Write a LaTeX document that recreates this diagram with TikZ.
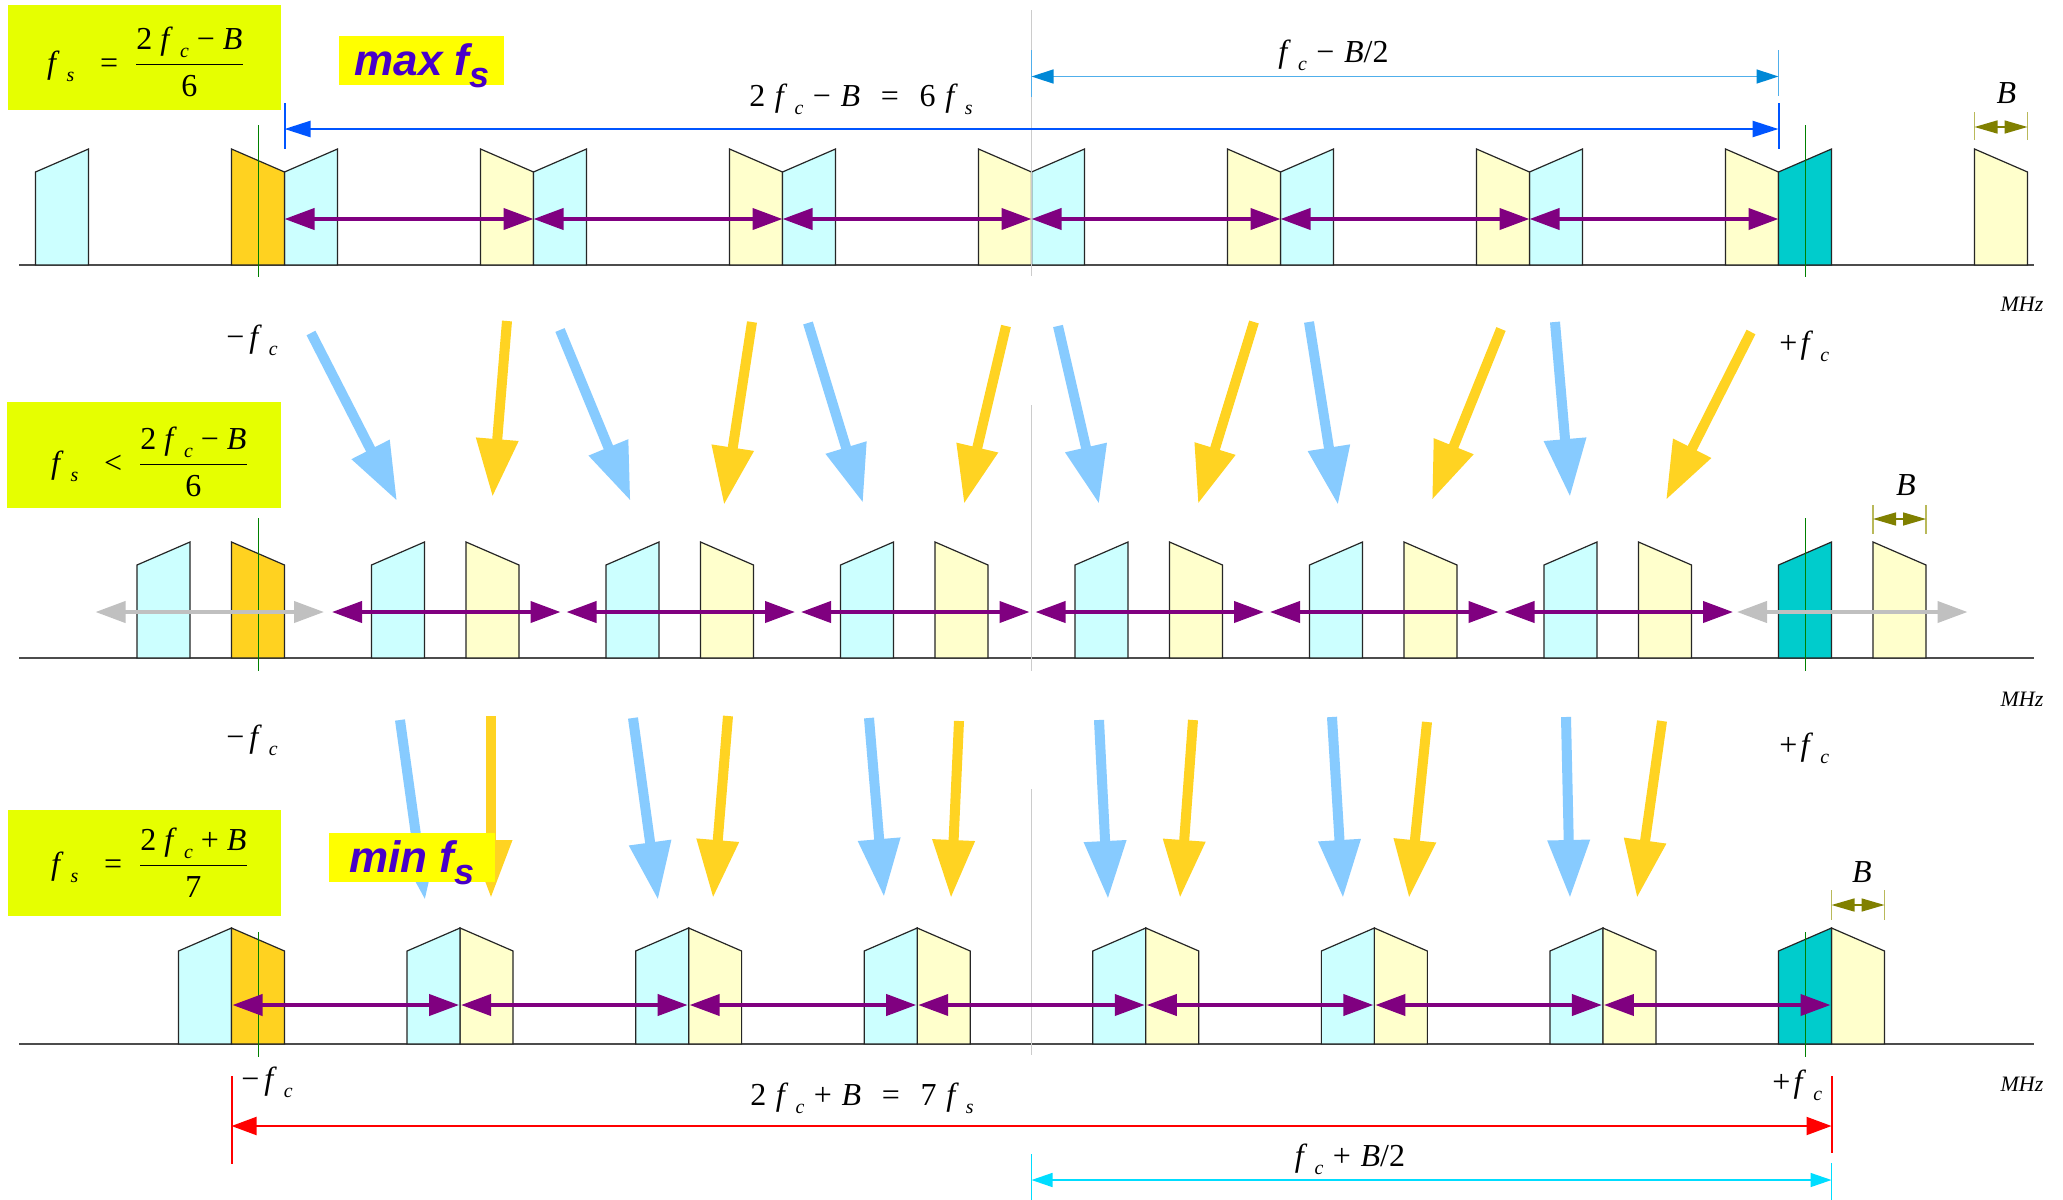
\documentclass[tikz,border=0pt]{standalone}
\usepackage{fontspec}
\setmainfont{Liberation Serif}
\newfontfamily\lsans{Liberation Sans}
\usepackage{graphicx}
\usetikzlibrary{arrows.meta}
\definecolor{cyanc}{RGB}{204,255,255}
\definecolor{yelc}{RGB}{255,255,204}
\definecolor{orac}{RGB}{255,210,32}
\definecolor{tealc}{RGB}{0,204,204}
\definecolor{bluearr}{RGB}{135,203,255}
\definecolor{orarr}{RGB}{255,211,34}
\definecolor{purp}{RGB}{128,0,128}
\definecolor{grayarr}{RGB}{192,192,192}
\definecolor{dimblue}{RGB}{0,85,255}
\definecolor{ltblue}{RGB}{0,136,214}
\definecolor{ltbline}{RGB}{80,175,235}
\definecolor{olivec}{RGB}{128,128,0}
\definecolor{olivet}{RGB}{185,185,90}
\definecolor{dimcyan}{RGB}{0,221,255}
\definecolor{formbg}{RGB}{230,255,0}
\definecolor{maxbg}{RGB}{255,255,0}
\definecolor{maxtxt}{RGB}{72,0,200}
\definecolor{gline}{RGB}{0,128,0}
\newcommand\subc[1]{\raisebox{-0.25em}{\scalebox{0.62}{\textit{#1}}}}
\newcommand\ff[1]{\textit{f}\hspace{0.22em}\subc{#1}}
\newcommand\gp{\hspace{0.3em}}
\newcommand\fgp{\hspace{0.25em}}
\newcommand\pblk[3]{\filldraw[blk,fill=#3] (#1,#2) -- (#1,#2-93) -- ({#1+53},#2-116) -- ({#1+53},#2) -- cycle;}
\newcommand\nblk[3]{\filldraw[blk,fill=#3] (#1,#2-116) -- (#1,#2) -- ({#1+53},#2) -- ({#1+53},#2-93) -- cycle;}
\begin{document}
\begin{tikzpicture}[x=0.5pt,y=-0.5pt,
  blk/.style={draw=black!85,line width=0.6pt,line join=miter},
  baseln/.style={draw=black!70,line width=0.75pt},
  gln/.style={draw=gline,line width=0.5pt},
  cln/.style={draw=black!20,line width=0.5pt},
  purarr/.style={draw=purp,line width=2pt,{Triangle[length=15pt,width=10.5pt]}-{Triangle[length=15pt,width=10.5pt]}},
  grarr/.style={purarr,draw=grayarr},
  bigarr/.style={line width=5pt,-{Triangle[length=29pt,width=20pt]}},
  barr/.style={bigarr,draw=bluearr},
  oarr/.style={bigarr,draw=orarr},
  lbl/.style={font=\fontsize{16}{19}\selectfont,inner sep=0pt},
  flbl/.style={font=\fontsize{16}{19}\selectfont,inner sep=0pt,anchor=base},
  mhz/.style={font=\fontsize{11}{13}\selectfont\itshape,inner sep=0pt,anchor=base},
  maxlbl/.style={font=\lsans\bfseries\itshape\fontsize{22}{26}\selectfont,text=maxtxt,inner sep=0pt,anchor=base},
  bdim/.style={draw=olivec,line width=0.75pt,{Triangle[length=11.5pt,width=6.5pt]}-{Triangle[length=11.5pt,width=6.5pt]}},
  btick/.style={draw=olivet,line width=0.75pt},
]
\fill[white] (0,0) rectangle (2063,1200);
\useasboundingbox (0,0) rectangle (2063,1200);

% ================= ROW 1 =================
\coordinate (b1l) at (19,265); \coordinate (b1r) at (2034,265);
\draw[baseln] (b1l) -- (b1r);
\foreach \k in {1,...,7}{
  \pgfmathsetmacro\xa{1778.5-249*\k}
  \pblk{\xa}{265}{cyanc}
  \pgfmathsetmacro\xb{231.5+249*\k}
  \nblk{\xb}{265}{yelc}
}
\nblk{231.5}{265}{orac}
\pblk{1778.5}{265}{tealc}
\draw[gln] (258,125) -- (258,277);
\draw[gln] (1805,125) -- (1805,277);
\draw[cln] (1031.5,10) -- (1031.5,276);
\foreach \k in {0,...,6} \coordinate (ja\k) at ({284.5+249*\k},219);
\foreach \k/\n in {0/1,1/2,2/3,3/4,4/5,5/6} \draw[purarr] (ja\k) -- (ja\n);
% 2fc-B dimension
\draw[dimblue,line width=1pt] (284.5,103) -- (284.5,149);
\draw[dimblue,line width=1pt] (1778.5,103) -- (1778.5,149);
\coordinate (da) at (284.5,129); \coordinate (db) at (1778.5,129);
\draw[dimblue,line width=1.25pt,{Triangle[length=13pt,width=8pt]}-{Triangle[length=13pt,width=8pt]}] (da) -- (db);
\node[lbl,anchor=base] (t1) at (861,106) {2\gp\ff{c}\gp−\gp\textit{B}\hspace{.65em}=\hspace{.65em}6\gp\ff{s}};
% fc-B/2 dimension
\draw[ltbline,line width=0.75pt] (1031.5,50) -- (1031.5,97);
\draw[ltbline,line width=0.75pt] (1778.5,50) -- (1778.5,96);
\coordinate (la) at (1031.5,76.5); \coordinate (lb) at (1778.5,76.5);
\draw[ltbline,line width=0.75pt,{Triangle[length=11pt,width=7pt,color=ltblue]}-{Triangle[length=11pt,width=7pt,color=ltblue]}] (la) -- (lb);
\node[lbl,anchor=base] (t2) at (1333.5,62) {\ff{c}\gp−\gp\textit{B}/2};
% B
\draw[btick] (1974.5,112) -- (1974.5,140);
\draw[btick] (2027.5,112) -- (2027.5,140);
\coordinate (ba1) at (1974.5,127); \coordinate (bb1) at (2027.5,127);
\draw[bdim] (ba1) -- (bb1);
\node[lbl,anchor=base] (B1) at (2006.5,103.5) {\textit{B}};
\node[mhz] (m1) at (2022,311.5) {MHz};
\node[lbl,anchor=base west] (n1) at (226,347) {−\hspace{.15em}\ff{c}};
\node[lbl,anchor=base west] (p1) at (1779,353) {+\hspace{.1em}\ff{c}};
% formula box 1
\fill[formbg] (8,5) rectangle (281,110);
\node[flbl] (F1) at (146,73) {\ff{s}\hspace{.8em}=\hspace{.5em}$\displaystyle\frac{\mbox{2\fgp\ff{c}\fgp−\fgp\textit{B}}}{\mbox{6}}$};
\fill[maxbg] (339,36) rectangle (504,85);
\node[maxlbl] (M1) at (422,75) {max f\raisebox{-6pt}{\fontsize{18}{20}\selectfont s}};

% ================= ARROWS ROW1->ROW2 =================
\foreach \xa/\ya/\xb/\yb [count=\i] in {311/333/397/501, 560/330/630.5/501, 808/323/863/503, 1058/326/1099/504, 1309/322/1338/505, 1555/322/1570/497}{
  \coordinate (bt\i) at (\xa,\ya); \coordinate (bh\i) at (\xb,\yb);
  \draw[barr] (bt\i) -- (bh\i);
}
\foreach \xa/\ya/\xb/\yb [count=\i] in {507/321/492.5/497, 752/322/724/505, 1006/326/964/504, 1254/322/1198/504, 1501/329/1432/500, 1751/332/1666/500}{
  \coordinate (ot\i) at (\xa,\ya); \coordinate (oh\i) at (\xb,\yb);
  \draw[oarr] (ot\i) -- (oh\i);
}

% ================= ROW 2 =================
\coordinate (b2l) at (19,658); \coordinate (b2r) at (2034,658);
\draw[baseln] (b2l) -- (b2r);
\foreach \k in {1,...,7}{
  \pgfmathsetmacro\xa{1778.5-234.5*\k}
  \pblk{\xa}{658}{cyanc}
  \pgfmathsetmacro\xb{231.5+234.5*\k}
  \nblk{\xb}{658}{yelc}
}
\nblk{231.5}{658}{orac}
\pblk{1778.5}{658}{tealc}
\draw[gln] (258,518) -- (258,671);
\draw[gln] (1805,518) -- (1805,671);
\draw[cln] (1031.5,405) -- (1031.5,671);
\foreach \m in {0,...,8} \coordinate (jb\m) at ({93.5+234.5*\m},612);
\draw[grarr,shorten <=1pt,shorten >=2pt] (jb0) -- (jb1);
\foreach \k/\n in {1/2,2/3,3/4,4/5,5/6,6/7} \draw[purarr,shorten <=2pt,shorten >=1pt] (jb\k) -- (jb\n);
\draw[grarr,shorten <=1pt,shorten >=1pt] (jb7) -- (jb8);
\draw[btick] (1873,505) -- (1873,534);
\draw[btick] (1926,505) -- (1926,534);
\coordinate (ba2) at (1873,519); \coordinate (bb2) at (1926,519);
\draw[bdim] (ba2) -- (bb2);
\node[lbl,anchor=base] (B2) at (1906,495) {\textit{B}};
\node[mhz] (m2) at (2022,706.5) {MHz};
\node[lbl,anchor=base west] (n2) at (226,747) {−\hspace{.15em}\ff{c}};
\node[lbl,anchor=base west] (p2) at (1779,755) {+\hspace{.1em}\ff{c}};
\fill[formbg] (7,402) rectangle (281,508);
\node[flbl] (F2) at (150,473) {\ff{s}\hspace{.8em}<\hspace{.5em}$\displaystyle\frac{\mbox{2\fgp\ff{c}\fgp−\fgp\textit{B}}}{\mbox{6}}$};

% ================= ARROWS ROW2->ROW3 =================
\foreach \xa/\ya/\xb/\yb [count=\i] in {400/720/425/900, 633/718/658/900, 869/718/884/897, 1099/720/1108/899, 1332/717/1343/898, 1566/717/1570/898}{
  \coordinate (ct\i) at (\xa,\ya); \coordinate (ch\i) at (\xb,\yb);
  \draw[barr] (ct\i) -- (ch\i);
}
\foreach \xa/\ya/\xb/\yb [count=\i] in {491/716/491/898, 728/716/713/898, 959/721/951/898, 1193/720/1180/898, 1427/722/1409/898, 1662/721/1637/898}{
  \coordinate (pt\i) at (\xa,\ya); \coordinate (ph\i) at (\xb,\yb);
  \draw[oarr] (pt\i) -- (ph\i);
}

% ================= ROW 3 =================
\coordinate (b3l) at (19,1044); \coordinate (b3r) at (2034,1044);
\draw[baseln] (b3l) -- (b3r);
\foreach \k in {1,...,7}{
  \pgfmathsetmacro\xa{1778.5-228.571*\k}
  \pblk{\xa}{1044}{cyanc}
  \pgfmathsetmacro\xb{231.5+228.571*\k}
  \nblk{\xb}{1044}{yelc}
}
\nblk{231.5}{1044}{orac}
\pblk{1778.5}{1044}{tealc}
\draw[gln] (258,932) -- (258,1057);
\draw[gln] (1805,932) -- (1805,1057);
\draw[cln] (1031.5,789) -- (1031.5,1055);
\foreach \j in {0,...,7} \coordinate (jc\j) at ({231.5+228.571*\j},1005);
\foreach \k/\n in {0/1,1/2,2/3,3/4,4/5,5/6,6/7} \draw[purarr,shorten <=0.5pt,shorten >=0.5pt] (jc\k) -- (jc\n);
\draw[btick] (1831.5,890) -- (1831.5,920);
\draw[btick] (1884.5,890) -- (1884.5,920);
\coordinate (ba3) at (1831.5,905); \coordinate (bb3) at (1884.5,905);
\draw[bdim] (ba3) -- (bb3);
\node[lbl,anchor=base] (B3) at (1862,882) {\textit{B}};
\node[mhz] (m3) at (2022,1091.5) {MHz};
\node[lbl,anchor=base west] (n3) at (241,1089) {−\hspace{.15em}\ff{c}};
\node[lbl,anchor=base west] (p3) at (1772,1092.5) {+\hspace{.1em}\ff{c}};
% red dimension
\draw[red,line width=1pt] (231.5,1076) -- (231.5,1164);
\draw[red,line width=1pt] (1831.5,1076) -- (1831.5,1153);
\coordinate (ra) at (231.5,1126); \coordinate (rb) at (1831.5,1126);
\draw[red,line width=1pt,{Triangle[length=12.5pt,width=9pt]}-{Triangle[length=12.5pt,width=9pt]}] (ra) -- (rb);
\node[lbl,anchor=base] (t3) at (862,1105) {2\gp\ff{c}\gp+\gp\textit{B}\hspace{.65em}=\hspace{.65em}7\gp\ff{s}};
% cyan dimension
\draw[dimcyan,line width=0.6pt] (1031.5,1154) -- (1031.5,1200);
\draw[dimcyan,line width=0.6pt] (1831.5,1163) -- (1831.5,1200);
\coordinate (ca) at (1031.5,1180); \coordinate (cb) at (1831.5,1180);
\draw[dimcyan,line width=0.75pt,{Triangle[length=10.5pt,width=7pt]}-{Triangle[length=10.5pt,width=7pt]}] (ca) -- (cb);
\node[lbl,anchor=base] (t4) at (1350,1166) {\ff{c}\gp+\gp\textit{B}/2};
\fill[formbg] (8,810) rectangle (281,916);
\node[flbl] (F3) at (150,874) {\ff{s}\hspace{.8em}=\hspace{.5em}$\displaystyle\frac{\mbox{2\fgp\ff{c}\fgp+\fgp\textit{B}}}{\mbox{7}}$};
\fill[maxbg] (329,833) rectangle (495,882);
\node[maxlbl] (M3) at (412,872) {min f\raisebox{-6pt}{\fontsize{18}{20}\selectfont s}};
\end{tikzpicture}
\end{document}
